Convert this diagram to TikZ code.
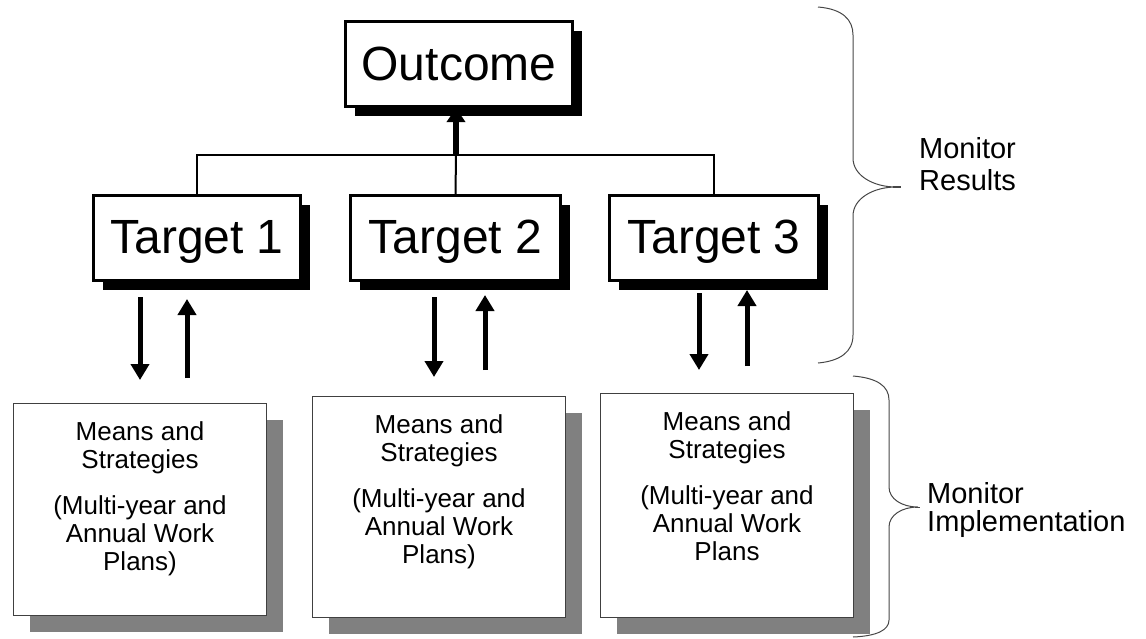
\documentclass[tikz,border=0pt]{standalone}
\usepackage{fontspec}
\setmainfont{Liberation Sans}
\usetikzlibrary{arrows.meta,shadows}
\definecolor{shadowgray}{RGB}{128,128,128}
\definecolor{bracegray}{RGB}{70,70,70}
\begin{document}
\begin{tikzpicture}[x=1pt,y=-1pt,
  bigbox/.style={draw=black, line width=3pt, fill=white, inner sep=0pt,
    font=\fontsize{48}{52}\selectfont, text height=35pt,
    general shadow={fill=black, shadow xshift=9pt, shadow yshift=-9pt}},
  meansbox/.style={draw=black!75, line width=1pt, fill=white, inner sep=0pt,
    minimum width=253pt,
    general shadow={fill=shadowgray, draw=none, shadow xshift=16pt, shadow yshift=-16pt}},
  meanstext/.style={anchor=north, inner sep=0pt, align=center,
    font=\fontsize{26}{28}\selectfont},
  link/.style={draw=black, line width=2pt},
  bigarr/.style={draw=black, line width=5pt, -{Triangle[width=18pt,length=16pt]}},
  toparr/.style={draw=black, line width=6pt, -{Triangle[width=18pt,length=14pt]}},
  brace/.style={draw=bracegray, line width=1pt},
  sidetext/.style={anchor=north west, inner sep=0pt, align=left}
]
\useasboundingbox (0,0) rectangle (1146,638);

% top row
\node[bigbox, minimum width=227pt, minimum height=85pt, text depth=3pt] (out) at (459,64) {Outcome};
\node[bigbox, minimum width=207pt, minimum height=85pt, text depth=5pt] (t1) at (197,238) {Target 1};
\node[bigbox, minimum width=210pt, minimum height=85pt, text depth=5pt] (t2) at (455.5,238) {Target 2};
\node[bigbox, minimum width=209pt, minimum height=85pt, text depth=5pt] (t3) at (714,238) {Target 3};

% means boxes
\node[meansbox, minimum height=212pt, anchor=north west] (m1) at (13,403) {};
\node[meansbox, minimum height=221pt, anchor=north west] (m2) at (312,396) {};
\node[meansbox, minimum height=224pt, anchor=north west] (m3) at (600,393) {};
\node[meanstext] (m1t) at ([yshift=-18.5pt]m1.north) {Means and\\Strategies\\[18pt](Multi-year and\\Annual Work\\Plans)};
\node[meanstext] (m2t) at ([yshift=-18.5pt]m2.north) {Means and\\Strategies\\[18pt](Multi-year and\\Annual Work\\Plans)};
\node[meanstext] (m3t) at ([yshift=-18.5pt]m3.north) {Means and\\Strategies\\[18pt](Multi-year and\\Annual Work\\Plans};

% tree connectors
\coordinate (jn) at (456,155);
\draw[link] (t1.north) |- (jn) -| (t3.north);
\draw[link] (t2.north) -- (jn);
\draw[toparr] (jn) -- (jn |- out.south);

% arrows between targets and means boxes
\coordinate (d1a) at (140,297); \coordinate (d1b) at (140,380);
\coordinate (u1a) at (187,378); \coordinate (u1b) at (187,299);
\coordinate (d2a) at (434,297); \coordinate (d2b) at (434,377);
\coordinate (u2a) at (485,370); \coordinate (u2b) at (485,295);
\coordinate (d3a) at (699,293); \coordinate (d3b) at (699,370);
\coordinate (u3a) at (747,366); \coordinate (u3b) at (747,290);
\draw[bigarr] (d1a) -- (d1b);
\draw[bigarr] (u1a) -- (u1b);
\draw[bigarr] (d2a) -- (d2b);
\draw[bigarr] (u2a) -- (u2b);
\draw[bigarr] (d3a) -- (d3b);
\draw[bigarr] (u3a) -- (u3b);

% braces
\draw[brace] (818,7) .. controls (843,9) and (853,20) .. (853,35)
  -- (853,158) .. controls (853,176) and (874,187) .. (896,187)
  .. controls (874,187) and (853,198) .. (853,216)
  -- (853,335) .. controls (853,352) and (840,361) .. (818,363);
\draw[brace, line width=1.4pt] (893,187) -- (901,187);
\draw[brace] (853,376) .. controls (877,378) and (889,386) .. (889,400)
  -- (889,487) .. controls (889,499) and (902,507) .. (918,507)
  .. controls (902,507) and (889,515) .. (889,527)
  -- (889,620) .. controls (889,630) and (877,636) .. (853,637);
\draw[brace] (915,507) -- (920,507);

% side labels
\node[sidetext, font=\fontsize{29}{32}\selectfont] (mr) at (919,137) {Monitor\\Results};
\node[sidetext, font=\fontsize{29}{28}\selectfont] (mi) at (927,482) {Monitor\\Implementation};
\end{tikzpicture}
\end{document}
